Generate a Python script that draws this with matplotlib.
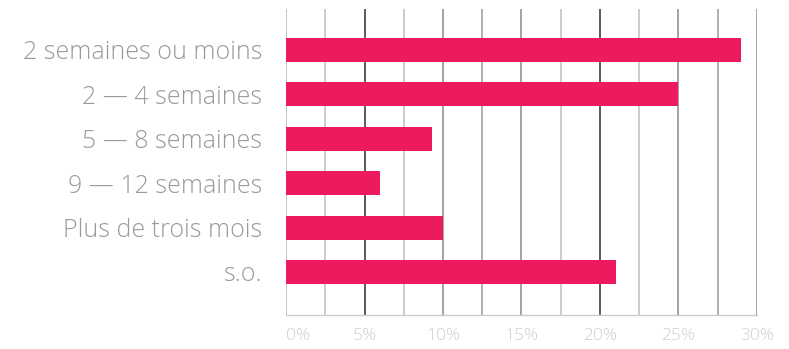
import matplotlib
matplotlib.use("Agg")
import matplotlib.pyplot as plt

# Durée d'attente — répartition des réponses (%)
categories = [
    "2 semaines ou moins",
    "2 — 4 semaines",
    "5 — 8 semaines",
    "9 — 12 semaines",
    "Plus de trois mois",
    "s.o.",
]
values = [29, 25, 9.3, 6, 10, 21]
tick_values = [0, 5, 10, 15, 20, 25, 30]
tick_labels = ["0%", "5%", "10%", "15%", "20%", "25%", "30%"]

plt.rcParams["font.family"] = ["Open Sans", "DejaVu Sans"]

fig = plt.figure(figsize=(7.89, 3.49), dpi=100)
ax = fig.add_axes([0.3625, 0.0974, 0.5969, 0.8768])

# vertical grid every 2.5 %
grid_pos = [i * 2.5 for i in range(13)]
grid_col = ["#b5b5b5", "#bdbdbd", "#2e2e2e", "#bdbdbd", "#8a8a8a", "#9a9a9a",
            "#8a8a8a", "#bdbdbd", "#2e2e2e", "#bdbdbd", "#8a8a8a", "#9a9a9a", "#8a8a8a"]
for gx, gc in zip(grid_pos, grid_col):
    ax.axvline(gx, color=gc, linewidth=1.1, zorder=1)

y = list(range(len(categories)))
ax.barh(y, values, height=0.54, color="#ED1A5E", zorder=2)

ax.set_xlim(0, 30)
ax.set_ylim(5.97, -0.92)

ax.set_yticks(y)
ax.set_yticklabels(categories, fontsize=18, color="#9a9a9a", fontweight="light")
ax.set_xticks(tick_values)
ax.set_xticklabels(tick_labels, fontsize=12.5, color="#cfcfcf", fontweight="light")
ax.get_xticklabels()[0].set_horizontalalignment("left")
ax.tick_params(axis="y", length=0, pad=17)
ax.tick_params(axis="x", length=0, pad=9)

for s in ["top", "right", "left"]:
    ax.spines[s].set_visible(False)
ax.spines["bottom"].set_color("#cccccc")
ax.spines["bottom"].set_linewidth(1)

fig.savefig("out.png", dpi=100)
